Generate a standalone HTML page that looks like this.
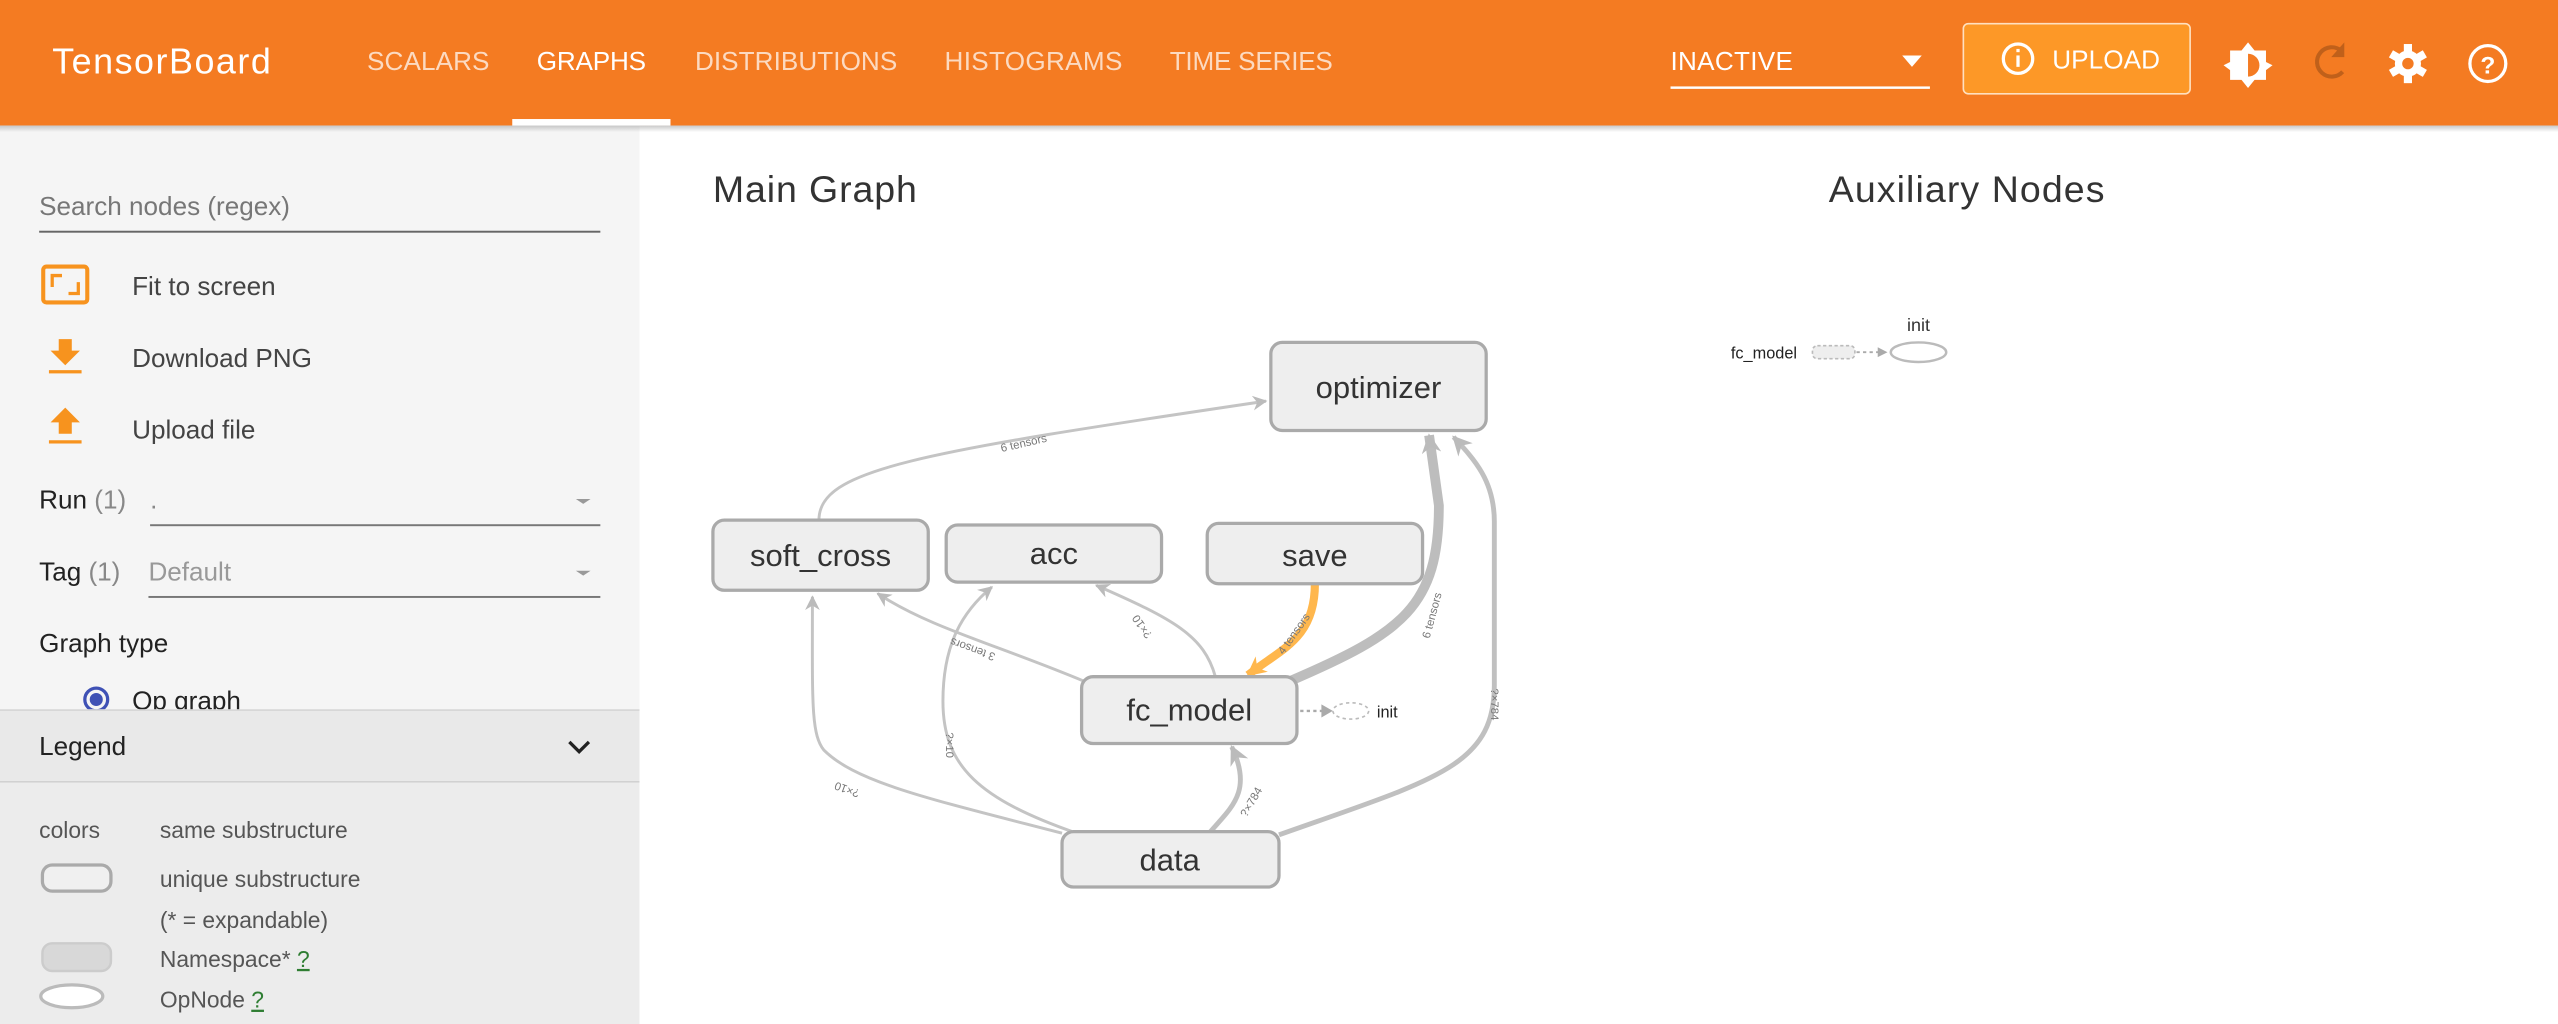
<!DOCTYPE html>
<html><head><meta charset="utf-8"><style>
html,body{margin:0;padding:0;width:2558px;height:1024px;overflow:hidden;background:#fff}
svg{display:block}
text{font-family:"Liberation Sans",sans-serif}
</style></head><body>
<svg width="2558" height="1024" viewBox="0 0 1568 628" preserveAspectRatio="none" xmlns="http://www.w3.org/2000/svg">
<defs>
<marker id="ag" viewBox="0 0 10 10" refX="9" refY="5" markerWidth="9" markerHeight="9" orient="auto" markerUnits="userSpaceOnUse"><path d="M0,0L10,5L0,10L3,5z" fill="#bbb"/></marker>
<marker id="agb" viewBox="0 0 10 10" refX="9" refY="5" markerWidth="12" markerHeight="12" orient="auto" markerUnits="userSpaceOnUse"><path d="M0,0L10,5L0,10L3,5z" fill="#bbb"/></marker>
<marker id="ao" viewBox="0 0 10 10" refX="9" refY="5" markerWidth="12" markerHeight="12" orient="auto" markerUnits="userSpaceOnUse"><path d="M0,0L10,5L0,10L3,5z" fill="#ffb74d"/></marker>
<linearGradient id="sh" x1="0" y1="0" x2="0" y2="1"><stop offset="0" stop-color="#bbb"/><stop offset="1" stop-color="#bbb" stop-opacity="0"/></linearGradient>
</defs>
<rect x="0" y="0" width="1568" height="77" fill="#f47b22"/>
<text x="32" y="45" font-size="22" fill="#fff" textLength="134">TensorBoard</text>
<g font-size="16" fill="#fff">
<text x="225" y="43" fill-opacity="0.72" textLength="75">SCALARS</text>
<text x="329" y="43" textLength="67">GRAPHS</text>
<text x="426" y="43" fill-opacity="0.72" textLength="124">DISTRIBUTIONS</text>
<text x="579" y="43" fill-opacity="0.72" textLength="109">HISTOGRAMS</text>
<text x="717" y="43" fill-opacity="0.72" textLength="100">TIME SERIES</text>
<text x="1024" y="43" textLength="75">INACTIVE</text>
</g>
<rect x="314" y="73" width="97" height="4" fill="#fff"/>
<rect x="1024" y="53" width="159" height="1.5" fill="#fff"/>
<path d="M1166,34L1178,34L1172,41z" fill="#fff"/>
<rect x="1203.5" y="14.5" width="139" height="43" rx="3" fill="#fd9827" stroke="#ffe0c0" stroke-width="1"/>
<circle cx="1237" cy="36" r="9" fill="none" stroke="#fff" stroke-width="2"/>
<rect x="1236" y="34" width="2" height="7" fill="#fff"/><rect x="1236" y="30" width="2" height="2" fill="#fff"/>
<text x="1258" y="42" font-size="16" fill="#fff" textLength="66">UPLOAD</text>
<path d="M1378,26L1382,31L1389,31L1389,38L1393,40L1389,43L1389,49L1382,49L1378,54L1374,49L1367,49L1367,43L1363,40L1367,38L1367,31L1374,31z" fill="#fff"/>
<path d="M1378,33A7,7 0 0 1 1378,47z" fill="#f47b22"/>
<path d="M1435,31A9,9 0 1 0 1436,44" fill="none" stroke="#c0601a" stroke-width="2.5"/>
<path d="M1437,26L1437,35L1429,35z" fill="#c0601a"/>
<g transform="translate(1476,39)" fill="#fff">
<circle r="8"/>
<g><rect x="-2.5" y="-12" width="5" height="24"/><rect x="-2.5" y="-12" width="5" height="24" transform="rotate(60)"/><rect x="-2.5" y="-12" width="5" height="24" transform="rotate(120)"/></g>
<circle r="3.5" fill="#f47b22"/>
</g>
<circle cx="1525" cy="39" r="11" fill="none" stroke="#fff" stroke-width="2"/>
<text x="1525" y="45" font-size="15" font-weight="bold" fill="#fff" text-anchor="middle">?</text>
<rect x="0" y="77" width="392" height="358" fill="#f5f5f5"/>
<rect x="0" y="77" width="1568" height="4" fill="url(#sh)" opacity="0.8"/>
<g font-size="16" fill="#222">
<text x="24" y="132" fill="#777">Search nodes (regex)</text>
<text x="81" y="181" fill="#444">Fit to screen</text>
<text x="81" y="225" fill="#444">Download PNG</text>
<text x="81" y="269" fill="#444">Upload file</text>
<text x="24" y="312">Run <tspan fill="#888">(1)</tspan></text>
<text x="92" y="312" fill="#888">.</text>
<text x="24" y="356">Tag <tspan fill="#888">(1)</tspan></text>
<text x="91" y="356" fill="#999">Default</text>
<text x="24" y="400">Graph type</text>
<text x="81" y="435">Op graph</text>
</g>
<rect x="24" y="141.5" width="344" height="1.2" fill="#666"/>
<rect x="92" y="321.5" width="276" height="1.2" fill="#777"/>
<rect x="91" y="365.5" width="277" height="1.2" fill="#777"/>
<path d="M353,306L362,306L357.5,309z" fill="#999"/>
<path d="M353,350L362,350L357.5,353z" fill="#999"/>
<rect x="26.5" y="163.5" width="27" height="22" rx="2" fill="none" stroke="#f7931e" stroke-width="2.5"/>
<path d="M32,176V169H38" fill="none" stroke="#f7931e" stroke-width="2"/><path d="M48,173V180H42" fill="none" stroke="#f7931e" stroke-width="2"/>
<path d="M36,208H44V215H49L40,224L31,215H36z" fill="#f7931e"/><rect x="30" y="227" width="20" height="2" fill="#f7931e"/>
<path d="M40,250L49,259H44V266H36V259H31z" fill="#f7931e"/><rect x="30" y="270" width="20" height="2" fill="#f7931e"/>
<circle cx="59" cy="429" r="7" fill="none" stroke="#3f51b5" stroke-width="2"/><circle cx="59" cy="429" r="4" fill="#3f51b5"/>
<rect x="0" y="435" width="392" height="45" fill="#e9e9e9"/>
<rect x="0" y="435" width="392" height="1" fill="#d6d6d6"/>
<rect x="0" y="479" width="392" height="1" fill="#d0d0d0"/>
<rect x="0" y="480" width="392" height="148" fill="#ececec"/>
<text x="24" y="463" font-size="16" fill="#222">Legend</text>
<path d="M349,455L355,461L361,455" fill="none" stroke="#222" stroke-width="2"/>
<g font-size="14" fill="#555">
<text x="24" y="514">colors</text>
<text x="98" y="514">same substructure</text>
<text x="98" y="544">unique substructure</text>
<text x="98" y="569">(* = expandable)</text>
<text x="98" y="593">Namespace* <tspan fill="#2e7d32" text-decoration="underline">?</tspan></text>
<text x="98" y="618">OpNode <tspan fill="#2e7d32" text-decoration="underline">?</tspan></text>
</g>
<rect x="26" y="530.5" width="42" height="16" rx="6" fill="#f0f0f0" stroke="#aaa" stroke-width="2"/>
<rect x="26" y="578.5" width="42" height="17" rx="6" fill="#d8d8d8" stroke="#ccc" stroke-width="1.5"/>
<ellipse cx="44" cy="611" rx="19" ry="7" fill="#fff" stroke="#bbb" stroke-width="2"/>
<text x="437" y="124" font-size="23" fill="#333" textLength="125">Main Graph</text>
<text x="1121" y="124" font-size="23" fill="#333" textLength="169">Auxiliary Nodes</text>
<g fill="none" stroke="#c4c4c4" stroke-width="1.8">
<path d="M502,319C502,288 560,278 776,246" marker-end="url(#ag)"/>
<path d="M651,511C570,490 525,480 505,460C497,450 498,430 498,366" marker-end="url(#ag)"/>
<path d="M660,511C600,490 578,470 578,430C578,395 590,375 608,360" marker-end="url(#ag)"/>
<path d="M665,418C610,395 570,385 538,364" marker-end="url(#ag)"/>
<path d="M745,415C738,390 720,380 672,359" marker-end="url(#ag)"/>
</g>
<path d="M742,510C755,495 768,485 755,458" fill="none" stroke="#c0c0c0" stroke-width="3" marker-end="url(#agb)"/>
<path d="M784,512C880,478 916,470 916,420L916,320C916,295 904,282 891,268" fill="none" stroke="#c0c0c0" stroke-width="3" marker-end="url(#agb)"/>
<path d="M790,418C860,388 882,372 882,310L876,267" fill="none" stroke="#bdbdbd" stroke-width="6" marker-end="url(#agb)"/>
<path d="M806,358C806,392 785,398 765,414" fill="none" stroke="#ffb74d" stroke-width="5" marker-end="url(#ao)"/>
<g font-size="7" fill="#777">
<text transform="translate(628,274) rotate(-13)" text-anchor="middle">6 tensors</text>
<text transform="translate(520,482) rotate(200)" text-anchor="middle">?×10</text>
<text transform="translate(580,457) rotate(90)" text-anchor="middle">?×10</text>
<text transform="translate(597,396) rotate(200)" text-anchor="middle">3 tensors</text>
<text transform="translate(702,383) rotate(235)" text-anchor="middle">?×10</text>
<text transform="translate(795,390) rotate(-55)" text-anchor="middle">4 tensors</text>
<text transform="translate(880,378) rotate(-75)" text-anchor="middle">6 tensors</text>
<text transform="translate(914,432) rotate(90)" text-anchor="middle">?×784</text>
<text transform="translate(769,493) rotate(-60)" text-anchor="middle">?×784</text>
</g>
<g stroke="#aaa" stroke-width="2" fill="#eee">
<rect x="779" y="210" width="132" height="54" rx="7"/>
<rect x="437" y="319" width="132" height="43" rx="7"/>
<rect x="580" y="322" width="132" height="35" rx="7"/>
<rect x="740" y="321" width="132" height="37" rx="7"/>
<rect x="663" y="415" width="132" height="41" rx="7"/>
<rect x="651" y="510" width="133" height="34" rx="7"/>
</g>
<g font-size="19" fill="#333" text-anchor="middle">
<text x="845" y="244">optimizer</text>
<text x="503" y="347">soft_cross</text>
<text x="646" y="346">acc</text>
<text x="806" y="347">save</text>
<text x="729" y="442">fc_model</text>
<text x="717" y="534">data</text>
</g>
<path d="M797,436H812" stroke="#aaa" stroke-width="1.5" stroke-dasharray="2,2"/>
<path d="M810,432L817,436L810,440z" fill="#aaa"/>
<ellipse cx="828" cy="436" rx="11" ry="5" fill="#fff" stroke="#bbb" stroke-dasharray="2,2"/>
<text x="844" y="440" font-size="10" fill="#222">init</text>
<text x="1061" y="220" font-size="10" fill="#222">fc_model</text>
<rect x="1111" y="212" width="26" height="8" rx="3" fill="#eee" stroke="#bbb" stroke-dasharray="2,1.5"/>
<path d="M1138,216H1152" stroke="#aaa" stroke-width="1.2" stroke-dasharray="2,2"/>
<path d="M1151,213L1157,216L1151,219z" fill="#aaa"/>
<ellipse cx="1176" cy="216" rx="17" ry="6" fill="#fff" stroke="#bbb" stroke-width="1.5"/>
<text x="1176" y="203" font-size="11" fill="#333" text-anchor="middle">init</text>
</svg>
</body></html>
